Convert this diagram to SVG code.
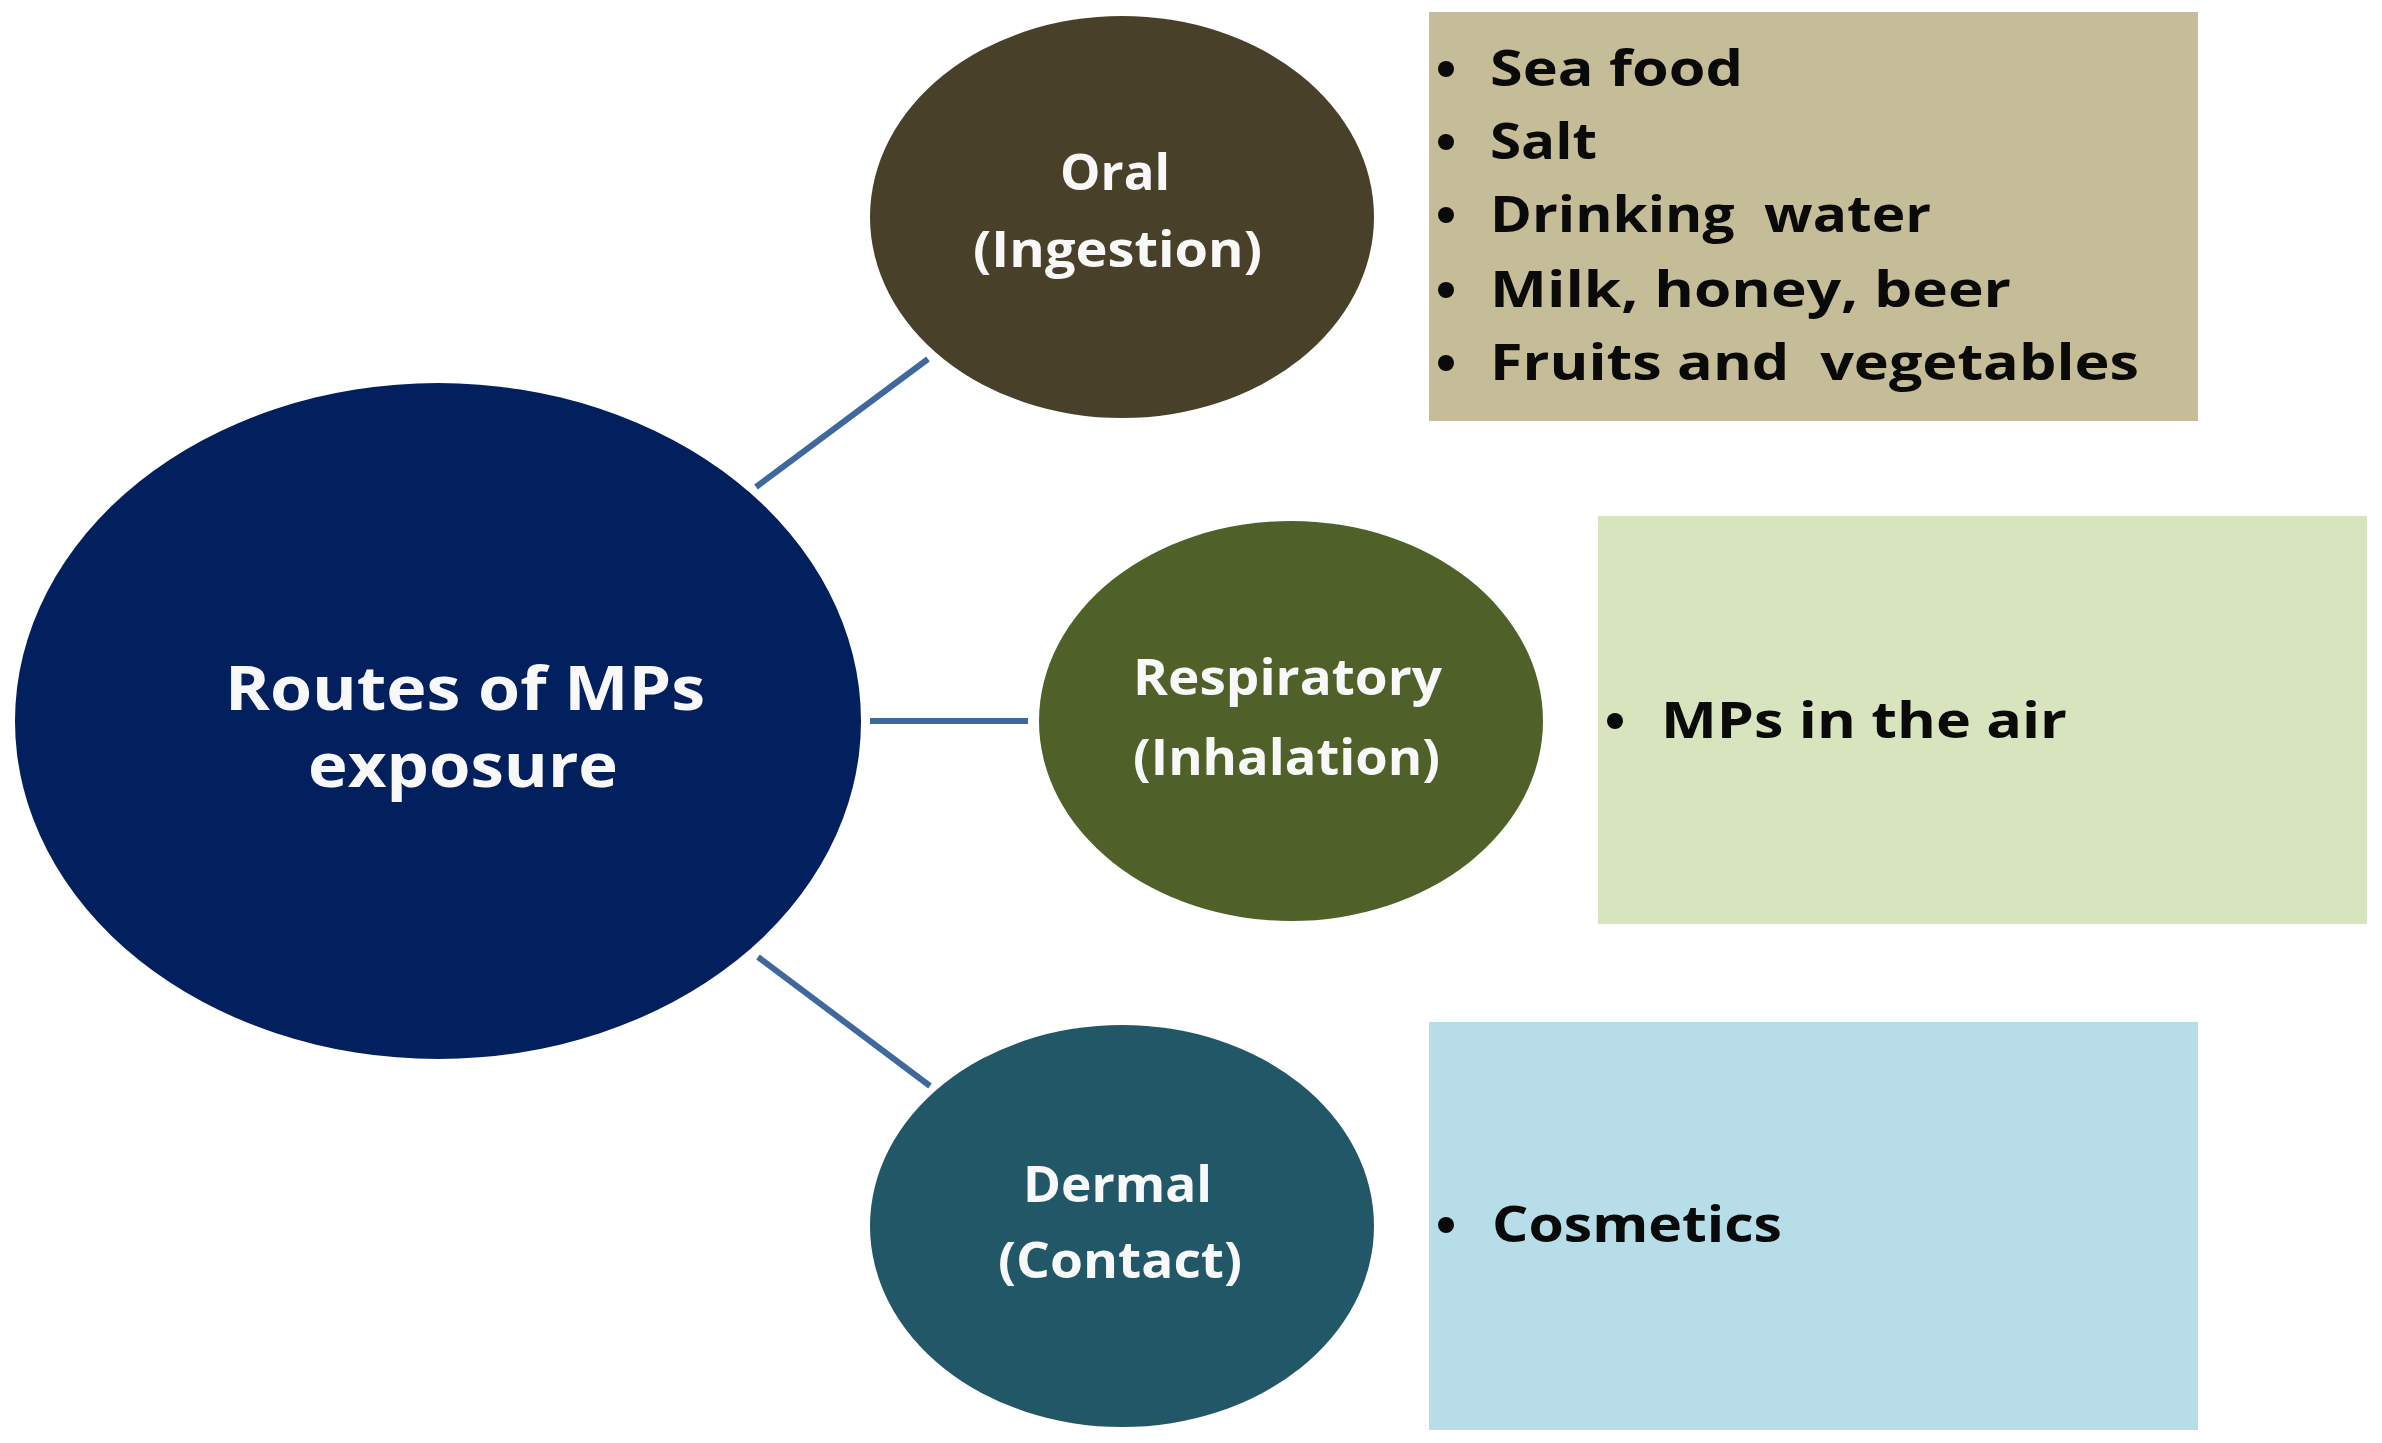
<svg xmlns="http://www.w3.org/2000/svg" width="2382" height="1443" viewBox="0 0 2382 1443">
<style>
.lbl{font-family:"Open Sans","Liberation Sans",sans-serif;font-weight:bold;fill:#F8F8F8;}
.big{font-size:61px;}
.mid{font-size:50px;}
.item{font-family:"Open Sans","Liberation Sans",sans-serif;font-weight:bold;font-size:50px;fill:#0A0A0A;white-space:pre;}
.conn{stroke:#3F689C;stroke-width:6;fill:none;}
.dot{fill:#0A0A0A;}
</style>
<rect x="0" y="0" width="2382" height="1443" fill="#FFFFFF"/>
<g id="connectors">
<line class="conn" x1="756" y1="487" x2="928" y2="359"/>
<line class="conn" x1="870" y1="721" x2="1028" y2="721"/>
<line class="conn" x1="758" y1="957" x2="930" y2="1086"/>
</g>
<g id="routes">
<ellipse cx="438" cy="721" rx="423" ry="338" fill="#021F5E"/>
<text class="lbl big" x="225" y="710" textLength="480" lengthAdjust="spacingAndGlyphs">Routes of MPs</text>
<text class="lbl big" x="308" y="787" textLength="310" lengthAdjust="spacingAndGlyphs">exposure</text>
</g>
<g id="oral">
<ellipse cx="1122" cy="217" rx="252" ry="201" fill="#494029"/>
<text class="lbl mid" x="1060" y="190" textLength="110" lengthAdjust="spacingAndGlyphs">Oral</text>
<text class="lbl mid" x="973" y="267" textLength="289" lengthAdjust="spacingAndGlyphs">(Ingestion)</text>
</g>
<g id="respiratory">
<ellipse cx="1291" cy="721" rx="252" ry="200" fill="#4F6128"/>
<text class="lbl mid" x="1133" y="695" textLength="309" lengthAdjust="spacingAndGlyphs">Respiratory</text>
<text class="lbl mid" x="1133" y="775" textLength="307" lengthAdjust="spacingAndGlyphs">(Inhalation)</text>
</g>
<g id="dermal">
<ellipse cx="1122" cy="1226" rx="252" ry="201" fill="#215767"/>
<text class="lbl mid" x="1023" y="1202" textLength="189" lengthAdjust="spacingAndGlyphs">Dermal</text>
<text class="lbl mid" x="998" y="1278" textLength="244" lengthAdjust="spacingAndGlyphs">(Contact)</text>
</g>
<g id="oral-sources">
<rect x="1429" y="12" width="769" height="409" fill="#C4BD97"/>
<circle class="dot" cx="1446" cy="69" r="8"/>
<text class="item" x="1490" y="86" textLength="253" lengthAdjust="spacingAndGlyphs">Sea food</text>
<circle class="dot" cx="1446" cy="142" r="8"/>
<text class="item" x="1490" y="159" textLength="107" lengthAdjust="spacingAndGlyphs">Salt</text>
<circle class="dot" cx="1446" cy="215" r="8"/>
<text class="item" x="1490" y="232" textLength="441" lengthAdjust="spacingAndGlyphs">Drinking  water</text>
<circle class="dot" cx="1446" cy="290" r="8"/>
<text class="item" x="1490" y="307" textLength="521" lengthAdjust="spacingAndGlyphs">Milk, honey, beer</text>
<circle class="dot" cx="1446" cy="363" r="8"/>
<text class="item" x="1490" y="380" textLength="649" lengthAdjust="spacingAndGlyphs">Fruits and  vegetables</text>
</g>
<g id="respiratory-sources">
<rect x="1598" y="516" width="769" height="408" fill="#D7E4BD"/>
<circle class="dot" cx="1615" cy="721" r="8"/>
<text class="item" x="1661" y="738" textLength="406" lengthAdjust="spacingAndGlyphs">MPs in the air</text>
</g>
<g id="dermal-sources">
<rect x="1429" y="1022" width="769" height="408" fill="#B7DEE8"/>
<circle class="dot" cx="1446" cy="1225" r="8"/>
<text class="item" x="1492" y="1242" textLength="290" lengthAdjust="spacingAndGlyphs">Cosmetics</text>
</g>
</svg>
